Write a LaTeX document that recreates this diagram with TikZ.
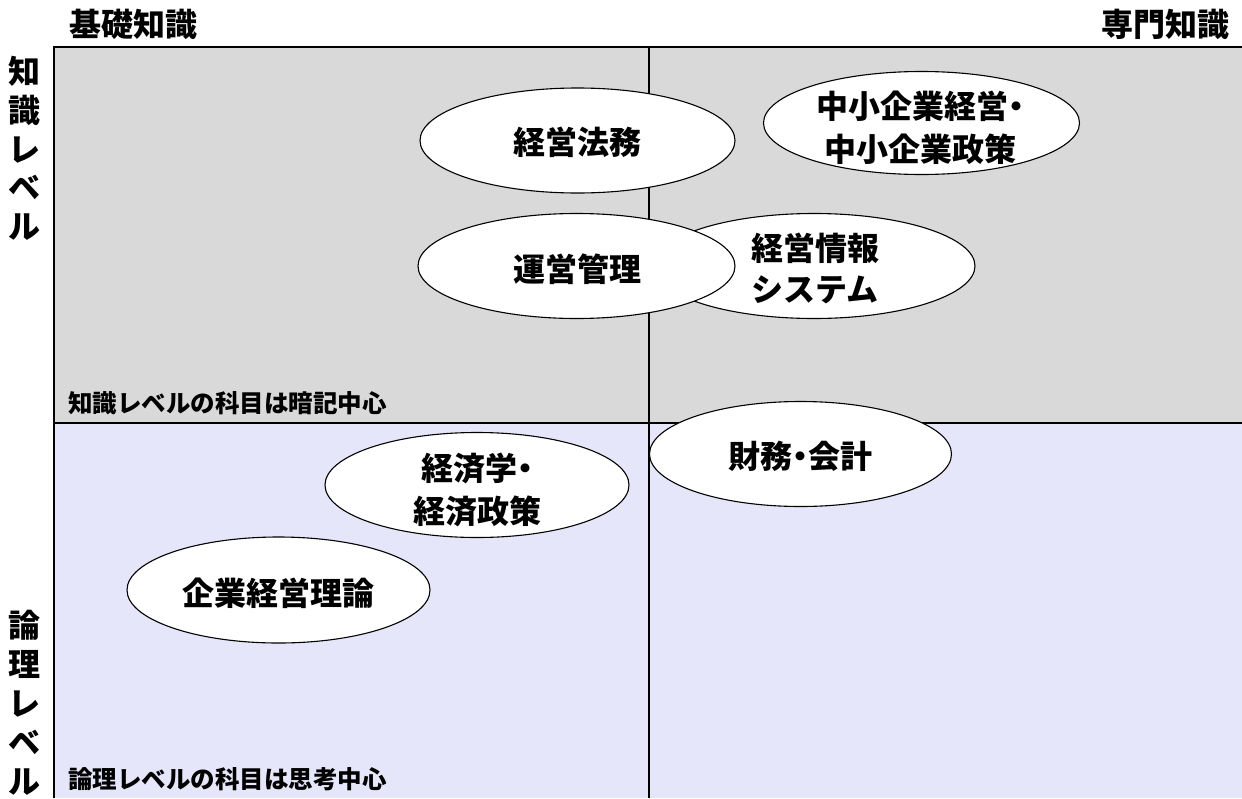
\documentclass[tikz,border=0pt]{standalone}
\usepackage{fontspec}
\newfontfamily\jp{Noto Sans CJK JP}
\usetikzlibrary{shapes.geometric}
\definecolor{quadgray}{RGB}{217,217,217}
\definecolor{quadlav}{RGB}{230,230,250}
\begin{document}
\begin{tikzpicture}[x=1pt,y=-1pt,
  subj/.style={draw=black, line width=1.1pt, fill=white, ellipse, inner sep=0pt},
  lab/.style={font=\jp\bfseries\fontsize{32}{42}\selectfont, align=center, inner sep=0pt},
  axislab/.style={font=\jp\bfseries\fontsize{32}{38.75}\selectfont, inner sep=0pt, align=center},
  note/.style={font=\jp\bfseries\fontsize{24.5}{28}\selectfont, anchor=west, inner sep=0pt},
  frameline/.style={line width=2pt, black}]
\useasboundingbox (0,0) rectangle (1242,798);
% quadrants
\fill[quadgray] (54,47) rectangle (1242,423);
\fill[quadlav] (54,423) rectangle (1242,798);
\draw[frameline] (54,798) -- (54,47) -- (1242,47);
\draw[frameline] (649,47) -- (649,798);
\draw[frameline] (54,423) -- (1242,423);
% axis titles
\node[axislab] (basic) at (133,24) {基礎知識};
\node[axislab] (expert) at (1165,24) {専門知識};
\node[axislab] (know) at (25,148.5) {知\\識\\レ\\ベ\\ル};
\node[axislab, font=\jp\bfseries\fontsize{32}{39}\selectfont] (logic) at (25,703) {論\\理\\レ\\ベ\\ル};
\node[note] (noteknow) at (68,403) {知識レベルの科目は暗記中心};
\node[note] (notelogic) at (68,779) {論理レベルの科目は思考中心};
% subjects
\node[subj, minimum width=315pt, minimum height=105pt] (e1) at (577.5,140.5) {};
\node[lab] (t1) at (577,142.5) {経営法務};
\node[subj, minimum width=316pt, minimum height=103pt] (e2) at (921.5,123) {};
\node[lab, font=\jp\bfseries\fontsize{32}{43}\selectfont] (t2) at (920,128) {中小企業経営\kern-.25em・\kern-.25em\\中小企業政策};
\node[subj, minimum width=322pt, minimum height=105pt] (e3) at (814,266) {};
\node[lab, font=\jp\bfseries\fontsize{32}{41}\selectfont] (t3) at (815,268.5) {経営情報\\システム};
\node[subj, minimum width=317pt, minimum height=105pt] (e4) at (576.5,266) {};
\node[lab] (t4) at (577,269) {運営管理};
\node[subj, minimum width=302pt, minimum height=105pt] (e5) at (800.5,454) {};
\node[lab] (t5) at (800,456) {財務\kern-.25em・\kern-.25em会計};
\node[subj, minimum width=304pt, minimum height=105pt] (e6) at (477,485) {};
\node[lab, font=\jp\bfseries\fontsize{32}{43}\selectfont] (t6) at (477,489.5) {経済学\kern-.25em・\kern-.25em\\経済政策};
\node[subj, minimum width=303pt, minimum height=106pt] (e7) at (278.5,590) {};
\node[lab] (t7) at (278.5,593) {企業経営理論};
\end{tikzpicture}
\end{document}
